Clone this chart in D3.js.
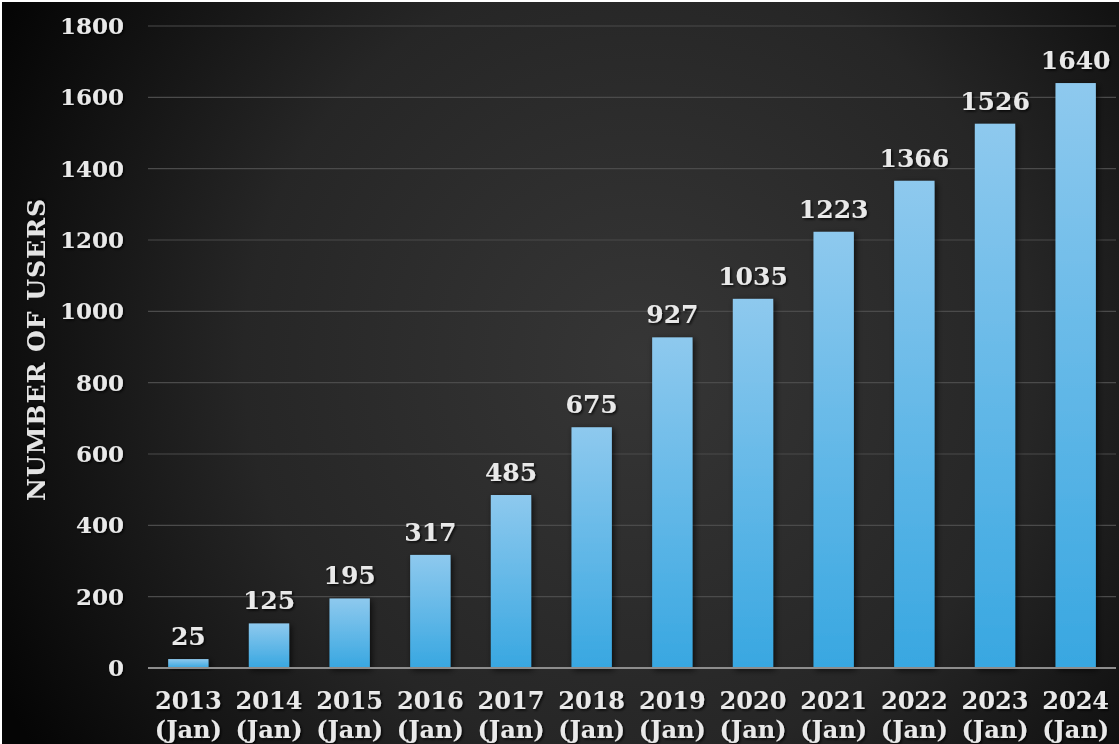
<!DOCTYPE html>
<html>
  <head>
    <meta charset="utf-8">
    <title>Number of users</title>
    <script src="https://d3js.org/d3.v7.min.js"></script>
    <style>
      html, body { margin: 0; padding: 0; background: #fff; }
      svg { display: block; }
      text { font-family: "DejaVu Serif", "Liberation Serif", serif; font-weight: bold; }
    </style>
  </head>
  <body>
    <div class="chart"></div>
    <script>
      // data
      var years = ["2013", "2014", "2015", "2016", "2017", "2018", "2019", "2020", "2021", "2022", "2023", "2024"];
      var months = ["(Jan)", "(Jan)", "(Jan)", "(Jan)", "(Jan)", "(Jan)", "(Jan)", "(Jan)", "(Jan)", "(Jan)", "(Jan)", "(Jan)"];
      var users = [25, 125, 195, 317, 485, 675, 927, 1035, 1223, 1366, 1526, 1640];
      var yTicks = [0, 200, 400, 600, 800, 1000, 1200, 1400, 1600, 1800];

      var width = 1119, height = 744;
      var data = years.map(function(y, i) { return { year: y, month: months[i], value: users[i] }; });

      var svg = d3.select(".chart").append("svg")
        .attr("width", width)
        .attr("height", height);

      var defs = svg.append("defs");

      var bg = defs.append("radialGradient")
        .attr("id", "bg")
        .attr("gradientUnits", "userSpaceOnUse")
        .attr("cx", 640).attr("cy", 360).attr("r", 720);
      bg.append("stop").attr("offset", "0%").attr("stop-color", "#363636");
      bg.append("stop").attr("offset", "55%").attr("stop-color", "#262626");
      bg.append("stop").attr("offset", "100%").attr("stop-color", "#050505");

      var barGrad = defs.append("linearGradient")
        .attr("id", "barGrad")
        .attr("x1", 0).attr("y1", 0).attr("x2", 0).attr("y2", 1);
      barGrad.append("stop").attr("offset", "0%").attr("stop-color", "#8ec9ee");
      barGrad.append("stop").attr("offset", "100%").attr("stop-color", "#38a7e1");

      var shadow = defs.append("filter").attr("id", "shadow")
        .attr("x", "-30%").attr("y", "-30%").attr("width", "160%").attr("height", "160%");
      shadow.append("feDropShadow")
        .attr("dx", 2).attr("dy", 2).attr("stdDeviation", 3)
        .attr("flood-color", "#000").attr("flood-opacity", 0.7);

      var txtShadow = defs.append("filter").attr("id", "txtShadow")
        .attr("x", "-20%").attr("y", "-20%").attr("width", "140%").attr("height", "140%");
      txtShadow.append("feDropShadow")
        .attr("dx", 1.5).attr("dy", 1.5).attr("stdDeviation", 1)
        .attr("flood-color", "#000").attr("flood-opacity", 0.8);

      // background with a thin white frame at top and left
      svg.append("rect")
        .attr("x", 2).attr("y", 2)
        .attr("width", width - 2).attr("height", height - 2)
        .attr("fill", "url(#bg)");

      var x = d3.scaleBand()
        .domain(years)
        .range([148, 1116])
        .paddingInner(0.5)
        .paddingOuter(0.25);

      var y = d3.scaleLinear()
        .domain([0, 1800])
        .range([668, 26]);

      // gridlines
      svg.append("g")
        .selectAll("line")
        .data(yTicks.filter(function(d) { return d > 0; }))
        .enter().append("line")
          .attr("x1", 148).attr("x2", 1116)
          .attr("y1", function(d) { return y(d); })
          .attr("y2", function(d) { return y(d); })
          .attr("stroke", "#4b4b4b")
          .attr("stroke-width", 1.2);

      // y axis labels
      var yAxis = svg.append("g")
        .attr("transform", "translate(132,0)")
        .call(d3.axisLeft(y).tickValues(yTicks).tickFormat(d3.format("d")).tickSize(0).tickPadding(8));
      yAxis.select(".domain").remove();
      yAxis.selectAll("text")
        .attr("fill", "#e9e9e9")
        .attr("font-size", 23)
        .attr("filter", "url(#txtShadow)");

      // bars
      svg.append("g")
        .selectAll("rect")
        .data(data)
        .enter().append("rect")
          .attr("x", function(d) { return x(d.year); })
          .attr("y", function(d) { return y(d.value); })
          .attr("width", x.bandwidth())
          .attr("height", function(d) { return y(0) - y(d.value); })
          .attr("fill", "url(#barGrad)")
          .attr("filter", "url(#shadow)");

      // base line
      svg.append("line")
        .attr("x1", 148).attr("x2", 1116)
        .attr("y1", y(0)).attr("y2", y(0))
        .attr("stroke", "#8d8d8d")
        .attr("stroke-width", 2);

      // value labels
      svg.append("g")
        .selectAll("text")
        .data(data)
        .enter().append("text")
          .attr("x", function(d) { return x(d.year) + x.bandwidth() / 2; })
          .attr("y", function(d) { return y(d.value) - 14; })
          .attr("text-anchor", "middle")
          .attr("font-size", 25)
          .attr("fill", "#e9e9e9")
          .attr("filter", "url(#txtShadow)")
          .text(function(d) { return d.value; });

      // x axis labels (two lines)
      var xAxis = svg.append("g")
        .attr("transform", "translate(0," + y(0) + ")")
        .call(d3.axisBottom(x).tickSize(0).tickFormat(""));
      xAxis.select(".domain").remove();
      xAxis.selectAll(".tick text").remove();
      var ticks = xAxis.selectAll(".tick").data(data);
      ticks.append("text")
        .attr("y", 41)
        .attr("text-anchor", "middle")
        .attr("font-size", 24)
        .attr("fill", "#e9e9e9")
        .attr("filter", "url(#txtShadow)")
        .text(function(d) { return d.year; });
      ticks.append("text")
        .attr("y", 70)
        .attr("text-anchor", "middle")
        .attr("font-size", 24)
        .attr("fill", "#e9e9e9")
        .attr("filter", "url(#txtShadow)")
        .text(function(d) { return d.month; });

      // y axis title
      svg.append("text")
        .attr("transform", "translate(45,350) rotate(-90)")
        .attr("text-anchor", "middle")
        .attr("font-size", 25)
        .attr("fill", "#e4e4e4")
        .attr("filter", "url(#txtShadow)")
        .attr("textLength", 302)
        .attr("lengthAdjust", "spacing")
        .text("NUMBER  OF  USERS");
    </script>
  </body>
</html>
